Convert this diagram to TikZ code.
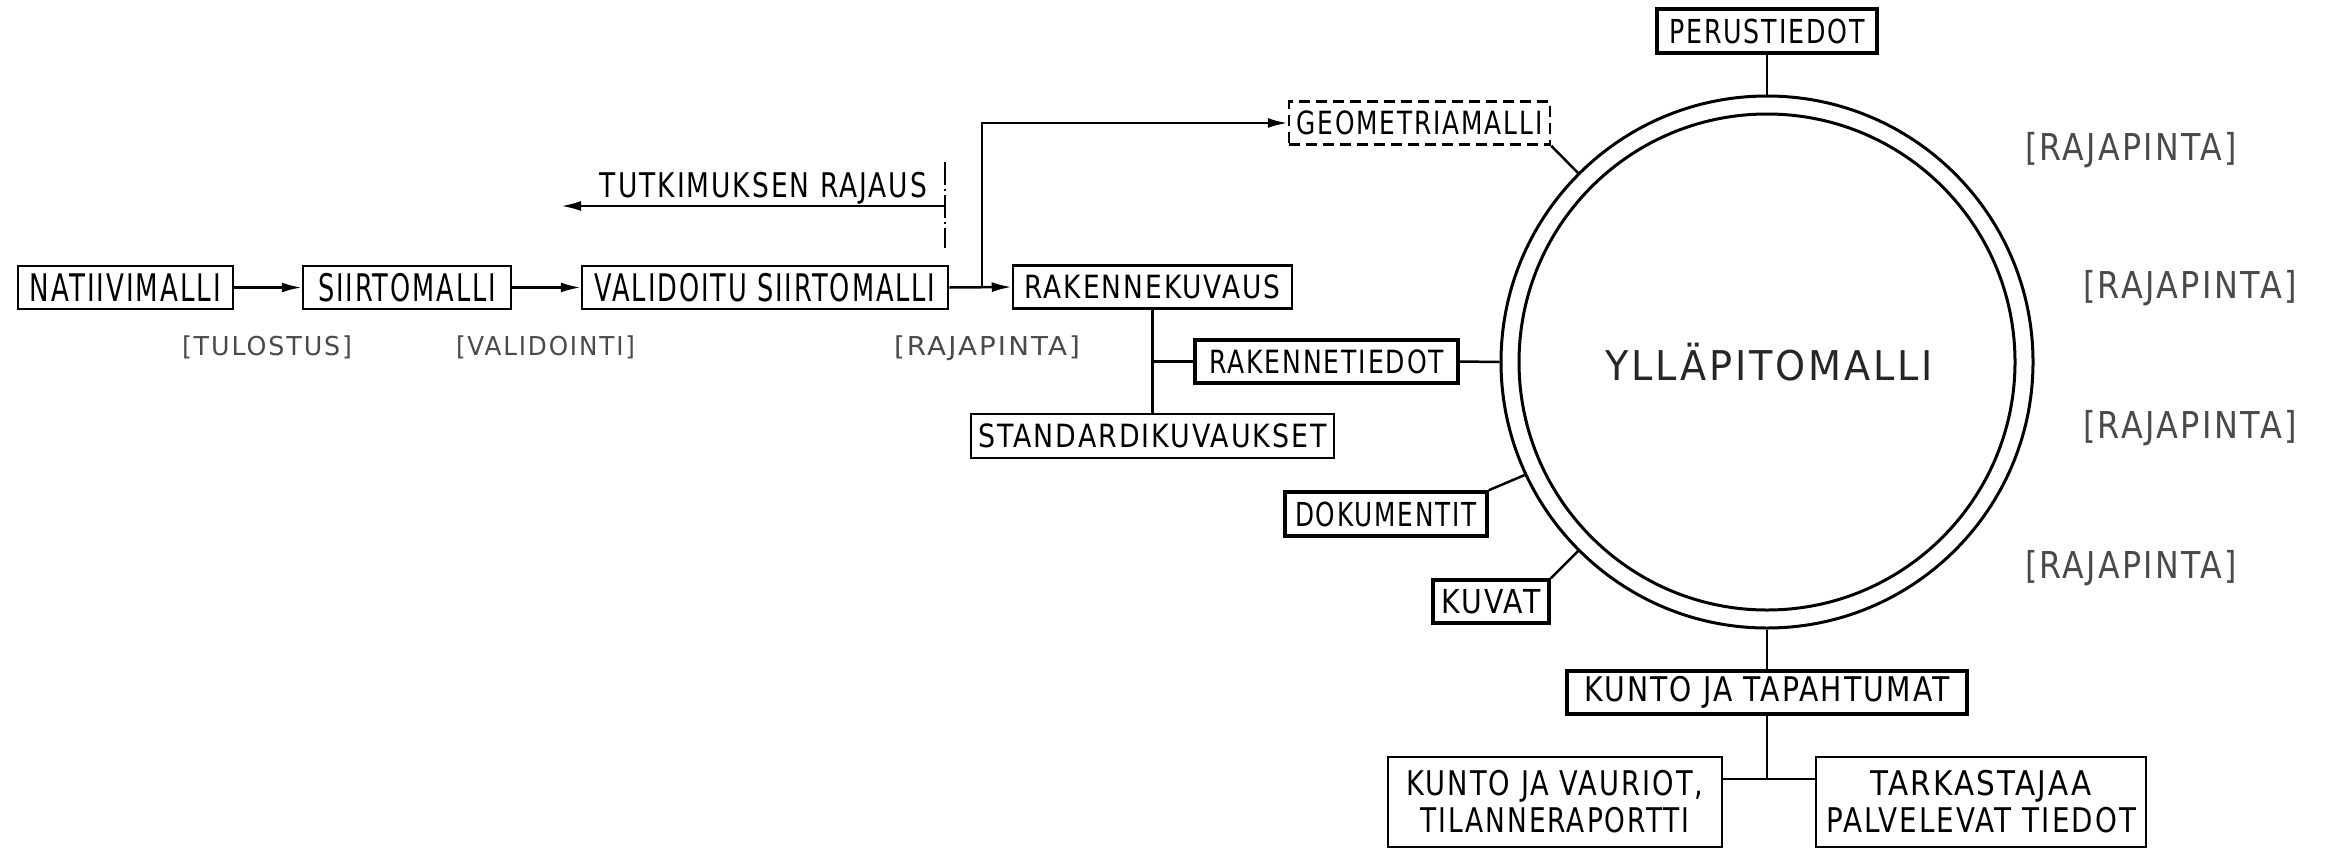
\documentclass[tikz,border=0pt]{standalone}
\usepackage{fontspec}
\usepackage{graphicx}
\setmainfont{DejaVu Sans}[FakeStretch=0.8, LetterSpace=6]
\usetikzlibrary{arrows.meta}
\newcommand{\tw}[2]{\resizebox{#1pt}{\height}{#2}}
\definecolor{lblgray}{HTML}{4A4A4A}
\begin{document}
\begin{tikzpicture}[x=1pt,y=-1pt,
  box/.style={draw, line width=2.5pt, inner sep=0pt, minimum height=43pt},
  bbox/.style={box, line width=3.5pt},
  dbox/.style={box, dash pattern=on 11pt off 6pt},
  conn/.style={line width=2.5pt},
  arr/.style={conn, -{Latex[length=20pt,width=10pt]}},
  big/.style={font={\fontsize{38}{44}\selectfont}},
  mid/.style={font={\fontsize{32}{37}\selectfont}},
  lbl/.style={anchor=base, text=lblgray, inner sep=0pt, font={\fontsize{26}{30}\selectfont}},
  rlbl/.style={anchor=base, text=lblgray, inner sep=0pt, font={\fontsize{37}{42}\selectfont}},
  ring/.style={circle, draw, line width=3pt, inner sep=0pt}
]
\useasboundingbox (0,0) rectangle (2328,849);

% left chain
\node[box, big, minimum width=215pt] (nat) at (125.5,287.5) {\tw{191}{NATIIVIMALLI}};
\node[box, big, minimum width=208pt] (siir) at (407,287.5) {\tw{178}{SIIRTOMALLI}};
\node[box, big, minimum width=366pt] (val) at (765,287.5) {\tw{341}{VALIDOITU SIIRTOMALLI}};
\node[box, mid, minimum width=279pt] (rak) at (1152.5,287) {\tw{256}{RAKENNEKUVAUS}};
\node[dbox, mid, minimum width=261pt] (geo) at (1419.5,123) {\tw{246}{GEOMETRIAMALLI}};
\node[bbox, mid, minimum width=263pt] (rakt) at (1326.5,361.5) {\tw{235}{RAKENNETIEDOT}};
\node[box, mid, minimum width=363pt, minimum height=44pt] (std) at (1152.5,436) {\tw{349}{STANDARDIKUVAUKSET}};

% labels under chain
\node[lbl] (tul) at (267,355) {\tw{170}{[TULOSTUS]}};
\node[lbl] (vali) at (545.5,355) {\tw{179}{[VALIDOINTI]}};
\node[lbl] (raj0) at (987,355) {\tw{186}{[RAJAPINTA]}};

% research boundary
\node[anchor=base, inner sep=0pt, font={\fontsize{34}{40}\selectfont}] (tut) at (763.5,197) {\tw{327}{TUTKIMUKSEN RAJAUS}};
\coordinate (cutTop) at (945,162);
\coordinate (cutBot) at (945,248);
\coordinate (cutMid) at (945,206);
\coordinate (cutEnd) at (561,206);
\draw[conn, dash pattern=on 23pt off 4pt on 2pt off 4pt] (cutTop) -- (cutBot);
\draw[arr] (cutMid) -- (cutEnd);

% chain arrows
\draw[arr] (nat.east) -- (siir.west);
\draw[arr] (siir.east) -- (val.west);
\draw[arr] (val.east) -- (rak.west);
\coordinate (br) at (982,287.5);
\draw[arr] (br) |- (geo.west);
\draw[conn] (rak.south) -- (std.north);
\draw[conn] (rak.south |- rakt.west) -- (rakt.west);

% central model
\node[ring, minimum size=532pt] (circ) at (1767,362) {};
\node[ring, minimum size=496pt] (circin) at (1767,362) {};
\node[anchor=base, inner sep=0pt, text={black!85}, font={\fontsize{41}{48}\selectfont}] (yp) at (1769,380) {\tw{328}{YLLÄPITOMALLI}};

\node[bbox, font={\fontsize{33}{38}\selectfont}, minimum width=220pt, minimum height=44pt] (per) at (1767,31) {\tw{196}{PERUSTIEDOT}};
\node[bbox, font={\fontsize{33}{38}\selectfont}, minimum width=202pt, minimum height=44pt] (dok) at (1386,514) {\tw{182}{DOKUMENTIT}};
\node[bbox, font={\fontsize{33}{38}\selectfont}, minimum width=116pt] (kuv) at (1491,601.5) {\tw{99}{KUVAT}};
\node[bbox, font={\fontsize{34}{38}\selectfont}, minimum width=400pt] (kjt) at (1767,692.5) {\tw{365}{KUNTO JA TAPAHTUMAT}};
\node[box, align=center, font={\fontsize{34}{37}\selectfont}, minimum width=334pt, minimum height=90pt] (kv) at (1555,802) {\tw{297}{KUNTO JA VAURIOT,}\\\tw{269}{TILANNERAPORTTI}};
\node[box, align=center, font={\fontsize{34}{37}\selectfont}, minimum width=330pt, minimum height=90pt] (tark) at (1981,802) {\tw{221}{TARKASTAJAA}\\\tw{310}{PALVELEVAT TIEDOT}};

\draw[conn] (rakt.east) -- (circ.west);
\draw[conn] (geo.south east) -- (circ.135);
\draw[conn] (dok.north east) -- (circ.205);
\draw[conn] (kuv.north east) -- (circ.225);
\draw[conn] (per.south) -- (circ.north);
\draw[conn] (circ.south) -- (kjt.north);
\coordinate (j) at (1767,779);
\draw[conn] (kjt.south) -- (j);
\draw[conn] (kv.east |- j) -- (tark.west |- j);

% interfaces
\node[rlbl] (r1) at (2131,160) {\tw{212}{[RAJAPINTA]}};
\node[rlbl] (r2) at (2190,298) {\tw{214}{[RAJAPINTA]}};
\node[rlbl] (r3) at (2190,438) {\tw{214}{[RAJAPINTA]}};
\node[rlbl] (r4) at (2131,578) {\tw{212}{[RAJAPINTA]}};
\end{tikzpicture}
\end{document}
